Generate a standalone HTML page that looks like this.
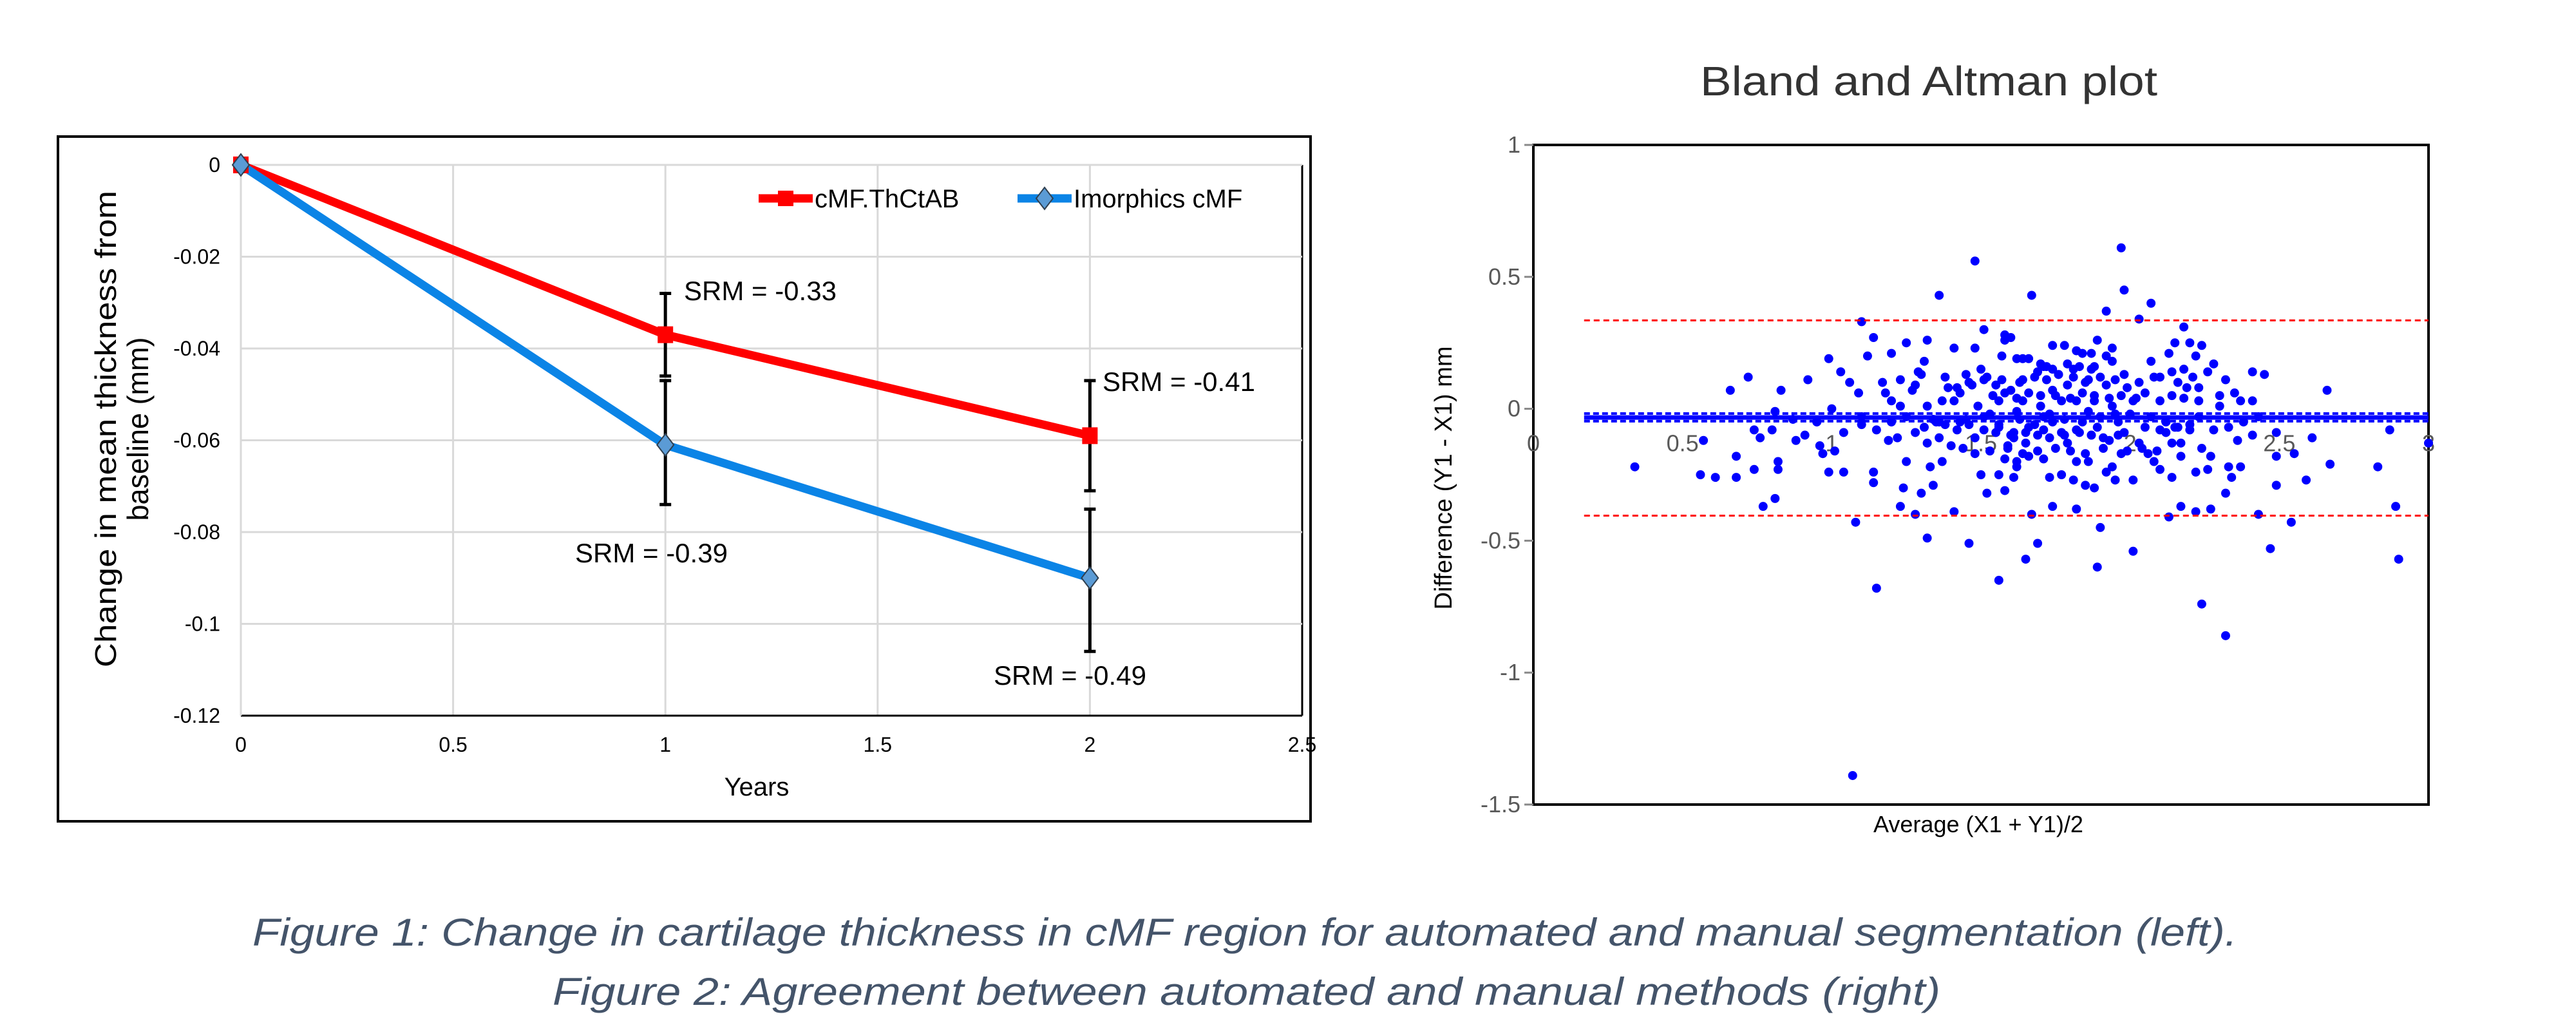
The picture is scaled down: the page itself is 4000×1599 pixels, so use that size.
<!DOCTYPE html>
<html><head><meta charset="utf-8">
<style>
html,body{margin:0;padding:0;background:#fff;}
svg{display:block;}
text{font-family:"Liberation Sans",sans-serif;}
</style></head>
<body>
<svg id="root" width="4000" height="1599" viewBox="0 0 4000 1599" xmlns="http://www.w3.org/2000/svg">
<rect x="90" y="212" width="1945" height="1063" fill="#fff" stroke="#000" stroke-width="4"/>
<g id="left"></g>
<g id="right"></g>
<text x="392" y="1468" font-size="60" font-style="italic" fill="#44546a" textLength="3082" lengthAdjust="spacingAndGlyphs">Figure 1:  Change in cartilage thickness in cMF region for automated and manual segmentation (left).</text>
<text x="858" y="1560" font-size="60" font-style="italic" fill="#44546a" textLength="2155" lengthAdjust="spacingAndGlyphs">Figure 2:  Agreement between automated and manual methods (right)</text>
</svg>
<script>
// ---- Left chart data ----
const years = [0, 1, 2];
const redValues = [0, -0.037, -0.059];
const blueValues = [0, -0.061, -0.090];
const redErrLow = [0, -0.046, -0.071];
const redErrHigh = [0, -0.028, -0.047];
const blueErrLow = [0, -0.074, -0.106];
const blueErrHigh = [0, -0.047, -0.075];
const xTicks = [0, 0.5, 1, 1.5, 2, 2.5];
const xTickLabels = ["0", "0.5", "1", "1.5", "2", "2.5"];
const yTicks = [0, -0.02, -0.04, -0.06, -0.08, -0.1, -0.12];
const yTickLabels = ["0", "-0.02", "-0.04", "-0.06", "-0.08", "-0.1", "-0.12"];
const srmLabels = ["SRM = -0.33", "SRM = -0.41", "SRM = -0.39", "SRM = -0.49"];

// ---- Right chart data ----
const baX = [0.34,1.07,1.15,1.48,1.97,1.98,2.07,1.67,1.36,2.24,2.32,2.90,2.89,2.87,2.83,3.0,2.66,2.67,2.61,2.59,2.54,2.47,2.49,2.49,2.55,2.49,2.45,2.41,2.43,2.41,2.01,1.89,1.90,1.56,1.65,1.69,1.46,1.32,1.08,1.10,1.14,1.12,0.92,0.72,0.66,0.83,1.0,0.99,1.03,1.06,1.09,0.57,0.68,0.61,0.56,0.68,0.74,0.77,0.81,0.82,0.76,0.80,0.82,0.74,0.81,0.88,0.91,0.96,0.97,1.01,0.99,1.04,1.04,1.10,1.14,1.14,1.23,1.28,1.24,1.30,1.34,1.41,1.25,1.33,1.37,1.19,1.22,1.52,1.50,1.58,1.56,1.61,1.62,1.67,1.74,1.82,1.71,1.73,1.77,1.81,1.85,1.88,1.82,1.86,1.92,1.94,1.95,2.01,1.97,2.03,2.06,2.08,2.10,2.13,2.14,2.17,2.22,2.27,2.22,2.26,2.27,2.24,2.32,2.34,2.33,2.37,2.36,2.41,2.17,2.14,2.17,1.20,1.25,1.32,1.41,1.48,1.51,1.58,1.60,1.58,1.31,1.29,1.38,1.45,1.50,1.57,1.62,1.64,1.66,1.72,1.74,1.78,1.82,1.84,1.87,1.89,1.92,1.94,1.92,2.03,2.07,2.13,2.15,2.18,2.20,2.22,2.24,2.28,2.26,2.18,2.14,2.10,2.16,2.21,2.32,2.35,2.30,2.19,2.23,2.08,2.03,1.98,1.94,1.88,1.81,1.76,1.69,1.71,1.74,1.79,1.85,1.92,1.99,2.05,2.10,2.14,2.18,2.23,2.30,2.37,1.64,1.60,1.55,1.51,1.46,1.42,1.37,1.32,1.27,1.23,1.18,1.20,1.17,1.23,1.30,1.28,1.64,1.70,1.77,1.82,1.88,1.94,2.01,1.56,1.49,1.41,1.66,1.61,1.56,1.51,1.46,1.42,1.36,1.32,1.28,1.40,1.59,1.65,1.71,1.77,1.82,1.87,1.93,1.98,2.05,2.10,2.15,2.20,2.28,2.33,2.38,1.89,1.79,1.61,1.48,1.31,1.25,1.20,1.96,2.07,2.23,1.71,1.51,1.36,1.15,1.10,0.95,0.87,2.43,1.53,1.63,1.73,1.84,1.90,2.00,1.45,1.35,1.68,1.78,1.86,1.95,2.12,1.56,1.62,1.74,
1.54,1.58,1.62,1.66,1.70,1.75,1.80,1.84,1.88,1.93,1.97,2.02,1.55,1.60,1.65,1.69,1.73,1.78,1.83,1.87,1.91,1.96,1.52,1.57,1.63,1.68,1.72,1.76,1.81,1.86,1.90,1.95,1.44,1.48,1.53,1.59,1.64,1.69,1.75,1.80,1.85,1.91,1.99,2.04,2.09,1.39,1.43,1.47,1.34,1.38,1.43,2.12,2.16,2.20,1.70,1.74,1.79,1.83,1.87,1.58,1.62,1.66];
const baY = [-0.22,-1.39,-0.68,0.56,0.61,0.45,0.40,0.43,0.43,-0.74,-0.86,-0.57,-0.37,-0.08,-0.22,-0.13,0.07,-0.21,-0.11,-0.27,-0.43,-0.53,-0.29,-0.18,-0.17,-0.09,0.13,0.14,-0.40,0.03,-0.54,-0.60,-0.45,-0.65,-0.57,-0.51,-0.51,-0.49,-0.43,0.33,0.27,0.20,0.11,0.12,0.07,0.07,0.0,0.19,0.14,0.10,0.06,-0.12,-0.18,-0.26,-0.25,-0.26,-0.23,-0.37,-0.34,-0.20,-0.11,-0.08,-0.23,-0.08,-0.01,-0.12,-0.10,-0.14,-0.17,-0.16,-0.24,-0.24,-0.09,-0.06,-0.24,-0.28,-0.37,-0.40,-0.30,-0.32,-0.29,-0.39,-0.20,-0.22,-0.20,-0.12,-0.11,-0.32,-0.25,-0.31,-0.25,-0.26,-0.22,-0.40,-0.37,-0.38,-0.19,-0.26,-0.25,-0.27,-0.29,-0.30,-0.20,-0.20,-0.24,-0.22,-0.27,-0.27,-0.17,-0.13,-0.17,-0.20,-0.23,-0.41,-0.26,-0.37,-0.39,-0.38,-0.24,-0.23,-0.18,-0.15,-0.32,-0.26,-0.22,-0.22,-0.12,-0.10,-0.18,-0.13,-0.13,0.21,0.25,0.26,0.23,0.23,0.30,0.28,0.27,0.26,0.18,0.14,0.12,0.13,0.15,0.20,0.19,0.19,0.19,0.16,0.24,0.24,0.22,0.21,0.21,0.26,0.20,0.23,0.37,0.34,0.18,0.21,0.25,0.31,0.25,0.20,0.24,0.17,0.14,0.15,0.14,0.12,0.10,0.12,0.11,0.06,0.05,0.08,0.08,0.12,0.10,0.13,0.18,0.16,0.15,0.13,0.14,0.16,0.07,0.09,0.10,0.09,0.08,0.06,0.03,0.05,0.04,0.03,0.01,0.03,0.11,0.07,0.09,0.11,0.10,0.08,0.03,0.01,0.07,0.11,0.06,0.03,0.10,0.01,0.13,0.09,0.03,0.01,0.03,0.03,0.03,0.01,0.03,0.03,0.01,0.03,-0.07,-0.09,-0.07,-0.08,-0.06,-0.08,-0.11,-0.13,-0.09,-0.14,-0.15,-0.13,-0.08,-0.09,-0.08,-0.10,-0.12,-0.09,-0.07,-0.08,-0.07,-0.06,-0.08,-0.07,-0.05,-0.07,-0.13,-0.11,-0.11,-0.07,-0.03,-0.05,-0.05,-0.03,-0.03,-0.03,-0.03,-0.05,-0.08,-0.03,-0.05,-0.04,-0.03,-0.02,-0.04,-0.02,-0.05,-0.03,-0.02,-0.04,-0.05,-0.06,-0.04,-0.01,-0.02,-0.05,-0.06,-0.01,-0.05,
0.05,0.06,0.04,0.06,0.05,0.05,0.04,0.06,0.05,0.04,0.05,0.04,-0.09,-0.10,-0.09,-0.10,-0.11,-0.10,-0.09,-0.10,-0.11,-0.10,0.12,0.11,0.10,0.12,0.11,0.13,0.12,0.11,0.12,0.11,-0.15,-0.17,-0.16,-0.14,-0.17,-0.16,-0.15,-0.16,-0.17,-0.15,-0.16,-0.15,-0.16,0.08,0.06,0.09,-0.04,-0.06,-0.05,-0.09,-0.07,-0.08,0.17,0.15,0.17,0.16,0.15,-0.19,-0.20,-0.18];
const upperLoA = 0.335;
const lowerLoA = -0.405;
const meanDiff = -0.033;
const meanCIHigh = -0.018;
const meanCILow = -0.047;
const baXTicks = [0, 0.5, 1, 1.5, 2, 2.5, 3];
const baXTickLabels = ["0", "0.5", "1", "1.5", "2", "2.5", "3"];
const baYTicks = [1, 0.5, 0, -0.5, -1, -1.5];
const baYTickLabels = ["1", "0.5", "0", "-0.5", "-1", "-1.5"];

const NS = "http://www.w3.org/2000/svg";
function mk(parent, tag, attrs, text) {
  const e = document.createElementNS(NS, tag);
  for (const k in attrs) e.setAttribute(k, attrs[k]);
  if (text !== undefined) e.textContent = text;
  parent.appendChild(e);
  return e;
}

// ===== Left chart =====
const L = document.getElementById('left');
const lx = v => 374 + v * (2022 - 374) / 2.5;
const ly = v => 256 + (-v) / 0.12 * (1111 - 256);

xTicks.forEach((t, i) => {
  if (t > 0) {
    const g = mk(L, 'line', {x1: lx(t), x2: lx(t), y1: ly(0), y2: ly(-0.12), stroke: i === xTicks.length - 1 ? '#000' : '#d9d9d9', 'stroke-width': 3});
    
    
  }
  const tl = mk(L, 'text', {x: lx(t), y: 1167, 'font-size': 32, 'text-anchor': 'middle', fill: '#000'}, xTickLabels[i]);
  
  
});
yTicks.forEach((t, i) => {
  const isAxis = i === yTicks.length - 1;
  const g = mk(L, 'line', {x1: lx(0), x2: lx(2.5), y1: ly(t), y2: ly(t), stroke: isAxis ? '#000' : '#d9d9d9', 'stroke-width': 3});
  
  
  const tl = mk(L, 'text', {x: 342, y: ly(t) + 11, 'font-size': 32, 'text-anchor': 'end', fill: '#000'}, yTickLabels[i]);
  
  
});
const yax = mk(L, 'line', {x1: lx(0), x2: lx(0), y1: ly(0), y2: ly(-0.12), stroke: '#d9d9d9', 'stroke-width': 3});



const yt = mk(L, 'text', {x: 0, y: 0, 'font-size': 46, 'text-anchor': 'middle', fill: '#000', transform: 'translate(188,666) rotate(-90)'});


mk(yt, 'tspan', {x: 0, dy: -8, textLength: 740, lengthAdjust: 'spacingAndGlyphs'}, 'Change in mean thickness from');
mk(yt, 'tspan', {x: 0, dy: 50, textLength: 285, lengthAdjust: 'spacingAndGlyphs'}, 'baseline (mm)');
const xt = mk(L, 'text', {x: 1175, y: 1235, 'font-size': 40, 'text-anchor': 'middle', fill: '#000'}, 'Years');



function errBar(x, lo, hi, name) {
  const g = mk(L, 'g', {stroke: '#000', 'stroke-width': 5});
  
  
  mk(g, 'line', {x1: lx(x), x2: lx(x), y1: ly(lo), y2: ly(hi)});
  mk(g, 'line', {x1: lx(x) - 9, x2: lx(x) + 9, y1: ly(lo), y2: ly(lo)});
  mk(g, 'line', {x1: lx(x) - 9, x2: lx(x) + 9, y1: ly(hi), y2: ly(hi)});
}
years.forEach((yr, i) => {
  if (i > 0) {
    errBar(yr, redErrLow[i], redErrHigh[i], 'error-bar-automated');
    errBar(yr, blueErrLow[i], blueErrHigh[i], 'error-bar-manual');
  }
});

const redPts = years.map((yr, i) => lx(yr) + ',' + ly(redValues[i])).join(' ');
const bluePts = years.map((yr, i) => lx(yr) + ',' + ly(blueValues[i])).join(' ');
const rl = mk(L, 'polyline', {points: redPts, fill: 'none', stroke: '#ff0000', 'stroke-width': 13, 'stroke-linejoin': 'round'});


const bl = mk(L, 'polyline', {points: bluePts, fill: 'none', stroke: '#0b84e6', 'stroke-width': 13, 'stroke-linejoin': 'round'});


years.forEach((yr, i) => {
  const r = mk(L, 'rect', {x: lx(yr) - 12, y: ly(redValues[i]) - 13, width: 24, height: 26, fill: '#ff0000'});
  
  
});
years.forEach((yr, i) => {
  const cx = lx(yr), cy = ly(blueValues[i]);
  const d = mk(L, 'polygon', {points: `${cx},${cy-17} ${cx+13},${cy} ${cx},${cy+17} ${cx-13},${cy}`, fill: '#5b9bd5', stroke: '#2f3f4f', 'stroke-width': 2});
  
  
});

const srmPos = [[1062, 466], [1712, 607], [893, 873], [1543, 1063]];
srmLabels.forEach((s, i) => {
  const t = mk(L, 'text', {x: srmPos[i][0], y: srmPos[i][1], 'font-size': 42, fill: '#000'}, s);
  
  
});

const lg = mk(L, 'g', {});


mk(lg, 'line', {x1: 1178, x2: 1262, y1: 308, y2: 308, stroke: '#ff0000', 'stroke-width': 13});
mk(lg, 'rect', {x: 1208, y: 296, width: 24, height: 24, fill: '#ff0000'});
mk(lg, 'text', {x: 1265, y: 322, 'font-size': 40, fill: '#000'}, 'cMF.ThCtAB');
mk(lg, 'line', {x1: 1580, x2: 1664, y1: 308, y2: 308, stroke: '#0b84e6', 'stroke-width': 13});
mk(lg, 'polygon', {points: '1622,291 1635,308 1622,325 1609,308', fill: '#5b9bd5', stroke: '#2f3f4f', 'stroke-width': 2});
mk(lg, 'text', {x: 1667, y: 322, 'font-size': 40, fill: '#000'}, 'Imorphics cMF');

// ===== Right chart =====
const R = document.getElementById('right');
const rx = v => 2381 + v * (3771 - 2381) / 3;
const ry = v => 225 + (1 - v) / 2.5 * (1249 - 225);

const title = mk(R, 'text', {x: 2995, y: 148, 'font-size': 64, 'text-anchor': 'middle', fill: '#333', textLength: 710, lengthAdjust: 'spacingAndGlyphs'}, 'Bland and Altman plot');



const box = mk(R, 'rect', {x: rx(0), y: ry(1), width: rx(3) - rx(0), height: ry(-1.5) - ry(1), fill: 'none', stroke: '#000', 'stroke-width': 4});



baYTicks.forEach((t, i) => {
  const tk = mk(R, 'line', {x1: rx(0) - 14, x2: rx(0), y1: ry(t), y2: ry(t), stroke: '#888', 'stroke-width': 3});
  
  
  const tl = mk(R, 'text', {x: rx(0) - 20, y: ry(t) + 12, 'font-size': 36, 'text-anchor': 'end', fill: '#595959'}, baYTickLabels[i]);
  
  
});
baXTicks.forEach((t, i) => {
  const tl = mk(R, 'text', {x: rx(t), y: ry(0) + 66, 'font-size': 36, 'text-anchor': 'middle', fill: '#595959'}, baXTickLabels[i]);
  
  
});

baX.forEach((v, i) => {
  const c = mk(R, 'circle', {cx: rx(v), cy: ry(baY[i]), r: 7, fill: '#0000ff'});
  
  
});

const x0l = rx(0.17), x1l = rx(3);
const up = mk(R, 'line', {x1: x0l, x2: x1l, y1: ry(upperLoA), y2: ry(upperLoA), stroke: '#ff0000', 'stroke-width': 3, 'stroke-dasharray': '9 6'});


const lo = mk(R, 'line', {x1: x0l, x2: x1l, y1: ry(lowerLoA), y2: ry(lowerLoA), stroke: '#ff0000', 'stroke-width': 3, 'stroke-dasharray': '9 6'});


const mn = mk(R, 'line', {x1: x0l, x2: x1l, y1: ry(meanDiff), y2: ry(meanDiff), stroke: '#0000ff', 'stroke-width': 7});


[meanCIHigh, meanCILow].forEach(v => {
  const d = mk(R, 'line', {x1: x0l, x2: x1l, y1: ry(v), y2: ry(v), stroke: '#0000ff', 'stroke-width': 4, 'stroke-dasharray': '9 5'});
  
  
});

const ryt = mk(R, 'text', {x: 0, y: 0, 'font-size': 38, 'text-anchor': 'middle', fill: '#000', transform: 'translate(2254,742) rotate(-90)'}, 'Difference (Y1 - X1) mm');


const rxt = mk(R, 'text', {x: 3072, y: 1292, 'font-size': 36, 'text-anchor': 'middle', fill: '#000'}, 'Average (X1 + Y1)/2');


</script>
</body></html>
